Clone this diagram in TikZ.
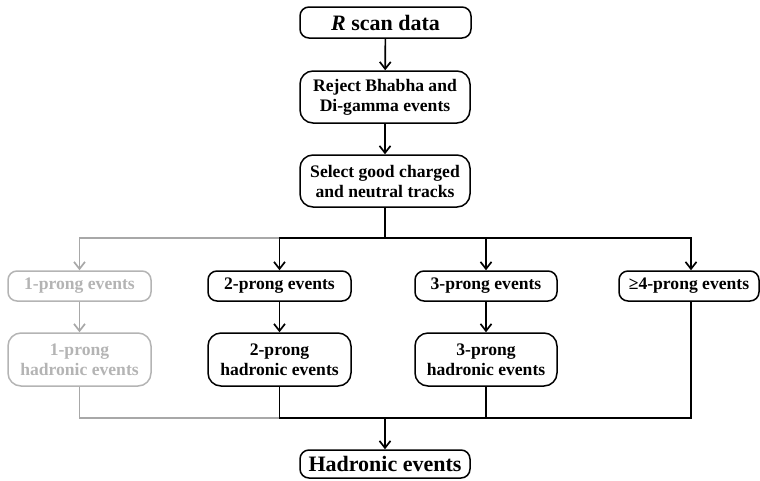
\documentclass[tikz,border=0pt]{standalone}
\usepackage{fontspec}
\setmainfont{Liberation Serif}
\usetikzlibrary{arrows.meta}
\definecolor{lightbox}{HTML}{B4B4B4}
\definecolor{lightline}{HTML}{A8A8A8}
\tikzset{
  x=1pt, y=-1pt,
  box/.style={draw, line width=1.5pt, rounded corners=9pt, align=center, inner sep=0pt,
    font=\fontsize{17.6}{20}\selectfont\bfseries, minimum width=143pt, minimum height=30pt},
  tallbox/.style={box, rounded corners=13pt, minimum height=53pt},
  bigbox/.style={box, font=\fontsize{22}{24}\selectfont\bfseries, minimum width=170pt},
  faded/.style={draw=lightbox, text=lightbox},
  conn/.style={line width=1.7pt, -{Straight Barb[length=7pt,width=11pt,line width=1.7pt]}},
  line/.style={line width=1.7pt},
  fadedconn/.style={conn, draw=lightline},
  fadedline/.style={line, draw=lightline}
}
\begin{document}
\begin{tikzpicture}
\useasboundingbox (0,0) rectangle (760,480);
\node[bigbox, minimum width=171pt, minimum height=31pt] (data) at (385.5,22.5) {\textit{R} scan data};
\node[tallbox, minimum width=170pt, minimum height=52pt] (reject) at (385,97) {Reject Bhabha and\\Di-gamma events};
\node[tallbox, minimum width=170pt, minimum height=52pt] (select) at (385,181) {Select good charged\\and neutral tracks};
\node[box, faded] (p1) at (79.5,286) {1-prong events};
\node[box] (p2) at (279.5,286) {2-prong events};
\node[box, minimum width=142pt] (p3) at (486,286) {3-prong events};
\node[box, minimum width=140pt] (p4) at (689,286) {≥4-prong events};
\node[tallbox, faded] (h1) at (79.5,359.5) {1-prong\\hadronic events};
\node[tallbox] (h2) at (279.5,359.5) {2-prong\\hadronic events};
\node[tallbox, minimum width=142pt] (h3) at (486,359.5) {3-prong\\hadronic events};
\node[bigbox, minimum height=28pt] (had) at (385,464) {Hadronic events};
\coordinate (split) at (385,238);
\coordinate (splitL) at (279.5,238);
\coordinate (merge) at (385,418);
\coordinate (mergeL) at (279.5,418);
% faded branch
\draw[fadedconn] (splitL) -| (p1);
\draw[fadedconn] (p1) -- (h1);
\draw[fadedline] (h1) |- (mergeL);
% main flow
\draw[conn] (data) -- (reject);
\draw[conn] (reject) -- (select);
\draw[line] (select) -- (split);
\draw[conn] (split) -| (p2);
\draw[conn] (split) -| ([xshift=2pt]p4.north);
\draw[conn] (split) -| (p3);
\draw[conn] (p2) -- (h2);
\draw[conn] (p3) -- (h3);
\draw[line] (h2) |- (merge);
\draw[line] (h3) |- (merge);
\draw[line] ([xshift=2pt]p4.south) |- (merge);
\draw[conn] (merge) -- (had);
\end{tikzpicture}
\end{document}
